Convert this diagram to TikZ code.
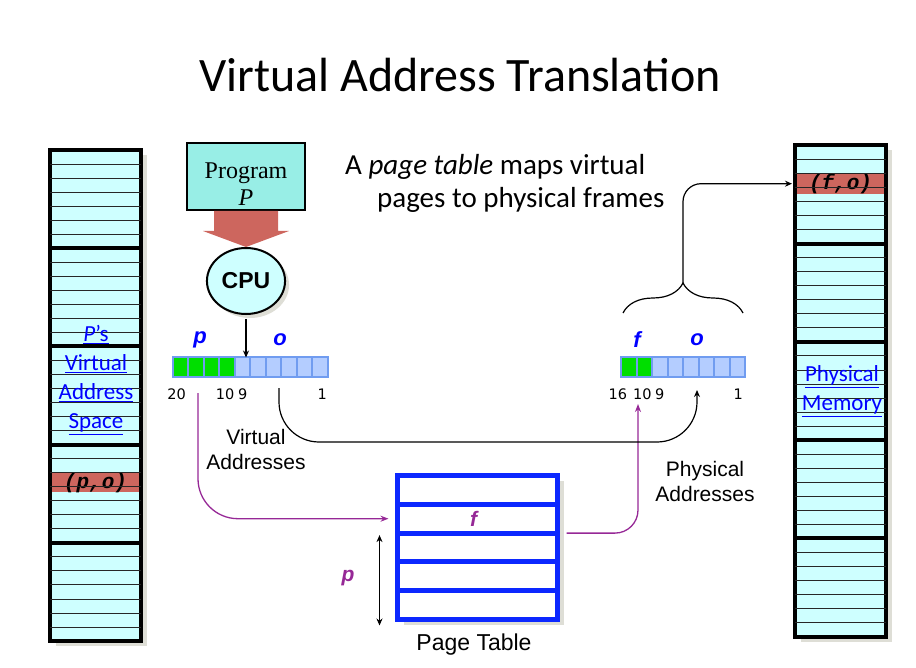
\documentclass[tikz,border=0pt]{standalone}
\usepackage{fontspec}
\setmainfont{Carlito}
\newfontfamily\arialfont{Liberation Sans}
\newfontfamily\verdanafont{DejaVu Sans}
\newfontfamily\timesfont{Liberation Serif}
\newfontfamily\courierfont{Liberation Mono}
\usepackage{tikz}
\usetikzlibrary{calc,decorations.pathreplacing,shapes,shadows,arrows.meta}
\usetikzlibrary{positioning}

\definecolor{memcyan}{RGB}{206,255,255}
\definecolor{hotred}{RGB}{205,102,94}
\definecolor{progteal}{RGB}{152,238,230}
\definecolor{regblue}{RGB}{112,156,240}
\definecolor{cellblue}{RGB}{180,205,255}
\definecolor{bitgreen}{RGB}{0,222,0}
\definecolor{ptblue}{RGB}{12,40,255}
\definecolor{linkblue}{RGB}{0,0,255}
\definecolor{addrpurple}{RGB}{150,40,150}
\definecolor{shadowgray}{RGB}{222,222,214}

\begin{document}
\begin{tikzpicture}[x=1pt,y=-1pt,>={Stealth[length=7pt,width=6pt]},
    memcol/.style={draw=black, line width=4pt, fill=memcyan, minimum width=91pt, minimum height=491pt, inner sep=0pt, outer sep=0pt,
        drop shadow={shadow xshift=6pt, shadow yshift=-5pt, fill=shadowgray, opacity=1}},
    hotrow/.style={fill=hotred, minimum width=87pt, minimum height=14pt, inner sep=0pt, anchor=north,
        font=\courierfont\bfseries\itshape\fontsize{21}{21}\selectfont},
    rowline/.style={draw=black!85, line width=0.9pt},
    blockline/.style={draw=black, line width=4pt},
    cell/.style={draw=regblue, line width=2pt, fill=cellblue, minimum width=15.5pt, minimum height=20pt, inner sep=0pt, outer sep=0pt},
    ptrow/.style={draw=ptblue, line width=5pt, fill=white, minimum width=160pt, minimum height=28.8pt, inner sep=0pt, outer sep=0pt,
        drop shadow={shadow xshift=6pt, shadow yshift=-5pt, fill=shadowgray, opacity=1}},
    linklbl/.style={text=linkblue, align=center, font=\fontsize{23}{29}\selectfont},
    fieldlbl/.style={text=linkblue, font=\arialfont\bfseries\itshape\fontsize{22}{22}\selectfont},
    purplelbl/.style={text=addrpurple, font=\arialfont\bfseries\itshape\fontsize{21}{21}\selectfont},
    bitnum/.style={inner sep=0pt, font=\verdanafont\fontsize{14.5}{14.5}\selectfont},
    sanslbl/.style={align=center, font=\arialfont\fontsize{21}{25}\selectfont},
    wire/.style={draw=black, line width=1.2pt},
    addr/.style={draw=addrpurple, line width=1.3pt, -{Stealth[length=8pt,width=6pt]}}
    ]
    \useasboundingbox (0,0) rectangle (916,668);
    \def\rowh{14.03}

    \node[font=\fontsize{48}{48}\selectfont] (title) at (460,75) {Virtual Address Translation};
    \node[font=\fontsize{29}{33}\selectfont, align=left, anchor=west, inner sep=0pt] (caption) at (345,183)
        {A \textit{page table} maps virtual\\\hspace*{32pt}pages to physical frames};

    % the two memory columns
    \node[memcol] (vas) at (95.5,395.5) {};
    \node[memcol] (pm) at (840.5,391) {};
    \node[hotrow] (po) at ($(vas.north)+(0,23*\rowh)$) {(p,o)};
    \node[hotrow] (fo) at ($(pm.north)+(0,2*\rowh)$) {(f,o)};
    \foreach \col in {vas,pm} {
        \foreach \r in {1,...,34} {
            \pgfmathtruncatemacro\blk{mod(\r,7)}
            \ifnum \blk = 0
            \draw[blockline] ($(\col.north west)+(0,\r*\rowh)$) -- ($(\col.north east)+(0,\r*\rowh)$);
            \else
            \draw[rowline] ($(\col.north west)+(0,\r*\rowh)$) -- ($(\col.north east)+(0,\r*\rowh)$);
            \fi
        }
    }
    \node[linklbl] (vaslbl) at (96,380) {\underline{\textit{P}'s}\\\underline{Virtual}\\\underline{Address}\\\underline{Space}};
    \node[linklbl] (pmlbl) at (842,391) {\underline{Physical}\\\underline{Memory}};

    % program and cpu
    \node[draw=black, line width=2pt, fill=progteal, minimum width=118pt, minimum height=67pt, align=center,
        font=\timesfont\fontsize{24}{27}\selectfont] (prog) at (246,176.5) {\rule{0pt}{31pt}Program\\\textit{P}};
    \node[ellipse, draw=black, line width=2pt, fill=memcyan, minimum width=74pt, minimum height=66pt,
        drop shadow={shadow xshift=4pt, shadow yshift=-4pt, fill=shadowgray, opacity=1},
        font=\arialfont\bfseries\fontsize{23}{23}\selectfont] (cpu) at (246,281) {CPU};
    \fill[hotred] ($(prog.south)+(-32,0)$) -- ($(prog.south)+(-32,20)$) -- ($(prog.south)+(-43,20)$) -- (cpu.north)
        -- ($(prog.south)+(43,20)$) -- ($(prog.south)+(32,20)$) -- ($(prog.south)+(32,0)$) -- cycle;

    % virtual address register
    \foreach \i [remember=\i as \prev (initially 0)] in {1,...,10} {
        \ifnum \i < 5 \def\cc{bitgreen}\else \def\cc{cellblue}\fi
        \ifnum \i = 1
        \node[cell, fill=\cc] (v\i) at (180.7,367.5) {};
        \else
        \node[cell, fill=\cc, right=0pt of v\prev] (v\i) {};
        \fi
    }
    % physical address register
    \foreach \i [remember=\i as \prev (initially 0)] in {1,...,8} {
        \ifnum \i < 3 \def\cc{bitgreen}\else \def\cc{cellblue}\fi
        \ifnum \i = 1
        \node[cell, fill=\cc] (f\i) at (628.8,367.5) {};
        \else
        \node[cell, fill=\cc, right=0pt of f\prev] (f\i) {};
        \fi
    }
    \foreach \c/\t/\dx in {v1/20/-4, v4/10/-2, v5/9/0, v10/1/2} {
        \node[bitnum] (vn\t) at ($(\c.south)+(\dx,17)$) {\t};
    }
    \foreach \c/\t/\dx in {f1/16/-11, f2/10/-2, f3/9/0, f8/1/1} {
        \node[bitnum] (fn\t) at ($(\c.south)+(\dx,17)$) {\t};
    }
    \node[fieldlbl] (plbl) at (200,340) {p};
    \node[fieldlbl] (olbl) at (280,340) {o};
    \node[fieldlbl] (flbl) at (637,340) {f};
    \node[fieldlbl] (oflbl) at (697,340) {o};

    \draw[wire, ->, shorten <=4pt] (cpu.south) -- (cpu.south |- v5.north);

    % page table
    \foreach \r [remember=\r as \prevr (initially 0)] in {1,...,5} {
        \ifnum \r = 1
        \node[ptrow] (pt\r) at (477.5,489.9) {};
        \else
        \node[ptrow, below=0pt of pt\prevr] (pt\r) {};
        \fi
    }
    \node[purplelbl] (fval) at ($(pt2)+(-4,0)$) {f};
    \node[purplelbl] (pidx) at (348,578) {p};
    \node[font=\arialfont\fontsize{23}{23}\selectfont] (ptlbl) at (474,645) {Page Table};
    \draw[wire, line width=1pt, <->] ($(pt3.north west)+(-18,2)$) -- ($(pt5.south west)+(-18,6)$);

    \node[sanslbl] (valbl) at (256,449.5) {Virtual\\Addresses};
    \node[sanslbl] (palbl) at (705,481.5) {Physical\\Addresses};

    % connectors
    \coordinate (vp) at (198,393);
    \coordinate (pf) at (638,404);
    \coordinate (voff) at (279,388);
    \coordinate (pfoff) at (697,390);
    \coordinate (lowbend) at (480,442);
    \coordinate (bl) at (623,313);
    \coordinate (br) at (743,313);
    \coordinate (btip) at (683,283);

    \draw[addr, rounded corners=40pt] (vp) |- ([xshift=-9pt]pt2.west);
    \draw[addr, rounded corners=23pt] ([xshift=9pt]pt2.south east) -| (pf);
    \draw[wire, ->, rounded corners=40pt] (voff) |- (lowbend) -| (pfoff);
    \draw[wire, decorate, decoration={brace, amplitude=30pt, aspect=0.5}] (bl) -- (br);
    \draw[wire, ->, rounded corners=18pt, shorten >=3pt] (btip) |- (pm.west |- fo);
\end{tikzpicture}
\end{document}
